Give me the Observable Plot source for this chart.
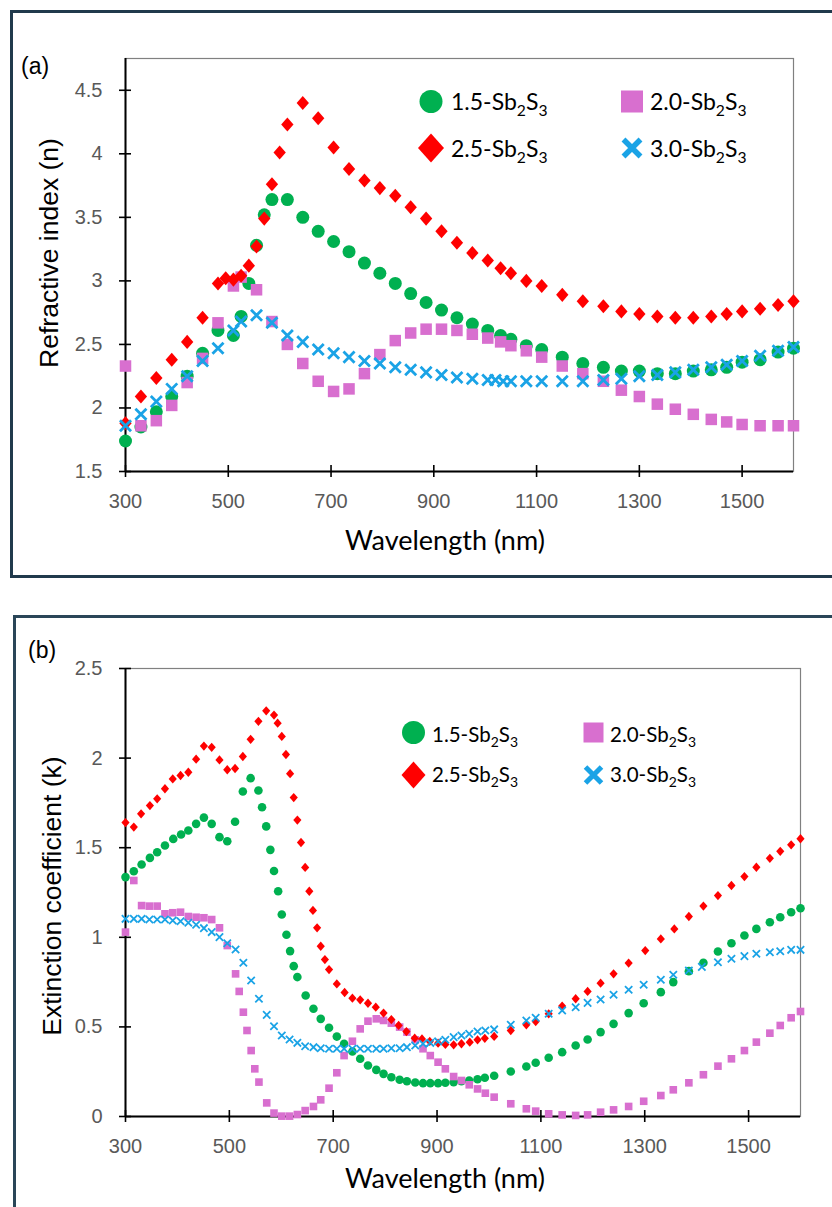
<!DOCTYPE html>
<html>
<head>
<meta charset="utf-8">
<script src="https://cdn.jsdelivr.net/npm/d3@7"></script>
<script src="https://cdn.jsdelivr.net/npm/@observablehq/plot@0.6"></script>
<style>
html,body{margin:0;padding:0;background:#fff;width:832px;height:1207px;overflow:hidden;}
#page{position:relative;width:832px;height:1207px;overflow:hidden;background:#fff;}
.box{position:absolute;box-sizing:border-box;}
#boxA{left:10px;top:10px;width:840px;height:568px;border:3px solid #203a4c;}
#boxB{left:13px;top:615px;width:840px;height:620px;border:3px solid #2a4658;}
.plot{position:absolute;left:0;}
</style>
</head>
<body>
<div id="page">
  <div class="box" id="boxA"></div>
  <div class="box" id="boxB"></div>
  <div id="pa" class="plot" style="top:0px"></div>
  <div id="pb" class="plot" style="top:600px"></div>
</div>
<script>
// ---------------- DATA ----------------
const seriesLabels = ["1.5", "2.0", "2.5", "3.0"];
const xTicks = [300, 500, 700, 900, 1100, 1300, 1500];
const xDomain = [300, 1600];
const yTicksA = [1.5, 2, 2.5, 3, 3.5, 4, 4.5];
const yDomainA = [1.5, 4.75];
const yTicksB = [0, 0.5, 1, 1.5, 2, 2.5];
const yDomainB = [0, 2.5];

// (a) refractive index n
const wlA_15 = [300,330,360,390,420,450,480,510,525,540,555,570,585,615,645,675,705,735,765,795,825,855,885,915,945,975,1005,1030,1050,1080,1110,1150,1190,1230,1265,1300,1335,1370,1405,1440,1470,1500,1535,1570,1600];
const nA_15 = [1.74,1.85,1.97,2.09,2.25,2.43,2.61,2.57,2.72,2.98,3.28,3.52,3.64,3.64,3.50,3.39,3.31,3.23,3.14,3.06,2.98,2.90,2.83,2.77,2.71,2.66,2.61,2.57,2.54,2.49,2.46,2.40,2.35,2.32,2.29,2.29,2.27,2.27,2.29,2.30,2.32,2.36,2.38,2.44,2.47];
const wlA_20 = [300,330,360,390,420,450,480,510,525,555,585,615,645,675,705,735,765,795,825,855,885,915,945,975,1005,1030,1050,1080,1110,1150,1190,1230,1265,1300,1335,1370,1405,1440,1470,1500,1535,1570,1600];
const nA_20 = [2.33,1.86,1.90,2.02,2.20,2.39,2.67,2.96,3.03,2.93,2.68,2.50,2.35,2.21,2.13,2.15,2.27,2.42,2.53,2.59,2.62,2.62,2.61,2.58,2.55,2.52,2.49,2.45,2.40,2.33,2.27,2.21,2.14,2.09,2.03,1.99,1.95,1.91,1.89,1.87,1.86,1.86,1.86];
const wlA_25 = [300,330,360,390,420,450,480,495,510,525,540,555,570,585,600,615,645,675,705,735,765,795,825,855,885,915,945,975,1005,1030,1050,1080,1110,1150,1190,1230,1265,1300,1335,1370,1405,1440,1470,1500,1535,1570,1600];
const nA_25 = [1.88,2.09,2.235,2.38,2.52,2.71,2.98,3.02,3.01,3.04,3.12,3.27,3.49,3.76,4.01,4.23,4.40,4.28,4.05,3.88,3.79,3.73,3.67,3.58,3.49,3.39,3.30,3.22,3.16,3.10,3.06,3.00,2.96,2.89,2.84,2.80,2.76,2.74,2.72,2.71,2.71,2.72,2.74,2.76,2.78,2.81,2.84];
const wlA_30 = [300,330,360,390,420,450,480,510,525,555,585,615,645,675,705,735,765,795,825,855,885,915,945,975,1005,1020,1035,1050,1080,1110,1150,1190,1230,1265,1300,1335,1370,1405,1440,1470,1500,1535,1570,1600];
const nA_30 = [1.86,1.95,2.05,2.15,2.25,2.37,2.47,2.61,2.68,2.73,2.67,2.57,2.52,2.46,2.43,2.40,2.37,2.35,2.32,2.30,2.28,2.26,2.24,2.23,2.22,2.22,2.21,2.21,2.21,2.21,2.21,2.21,2.22,2.23,2.25,2.26,2.28,2.30,2.32,2.34,2.37,2.41,2.45,2.48];

// (b) extinction coefficient k
const wlB_15 = [300,316,331,347,361,376,392,407,421,436,451,466,481,496,511,526,541,556,563,571,579,586,594,601,610,617,624,631,647,662,676,692,707,721,737,752,767,783,797,812,828,842,858,873,887,902,916,932,947,962,978,992,1010,1042,1072,1090,1115,1141,1167,1190,1215,1240,1269,1298,1331,1355,1385,1413,1441,1467,1492,1515,1541,1561,1582,1600];
const kB_15 = [1.336,1.369,1.406,1.443,1.475,1.512,1.549,1.574,1.596,1.633,1.668,1.633,1.559,1.536,1.645,1.814,1.888,1.819,1.726,1.619,1.488,1.37,1.257,1.127,1.014,0.923,0.839,0.778,0.675,0.601,0.545,0.495,0.446,0.406,0.363,0.322,0.285,0.260,0.238,0.219,0.205,0.197,0.190,0.186,0.186,0.186,0.188,0.192,0.197,0.201,0.208,0.216,0.227,0.251,0.279,0.300,0.328,0.359,0.396,0.430,0.471,0.517,0.577,0.632,0.694,0.750,0.811,0.858,0.921,0.967,1.010,1.047,1.084,1.112,1.140,1.162];
const wlB_20 = [300,316,331,346,361,376,391,406,421,436,451,466,481,496,512,519,527,534,542,549,557,572,586,601,616,631,646,662,676,692,707,721,737,752,767,783,797,812,828,842,858,873,887,902,916,932,947,962,978,993,1010,1042,1072,1090,1115,1141,1167,1190,1215,1240,1269,1298,1331,1355,1385,1413,1441,1467,1492,1515,1541,1561,1582,1600];
const kB_20 = [1.029,1.317,1.177,1.174,1.174,1.131,1.137,1.140,1.116,1.112,1.109,1.099,1.053,0.954,0.796,0.698,0.582,0.480,0.368,0.266,0.192,0.076,0.019,0.002,0.002,0.011,0.033,0.056,0.093,0.158,0.244,0.340,0.420,0.489,0.532,0.545,0.536,0.521,0.499,0.471,0.428,0.378,0.340,0.303,0.266,0.223,0.201,0.177,0.154,0.130,0.108,0.071,0.043,0.030,0.015,0.009,0.006,0.009,0.024,0.037,0.056,0.085,0.117,0.149,0.188,0.233,0.281,0.322,0.368,0.415,0.465,0.508,0.551,0.586];
const wlB_25 = [300,316,330,347,361,376,391,406,421,436,451,466,481,496,511,526,541,556,571,586,593,601,609,617,624,631,638,646,654,661,669,676,684,692,707,722,737,752,767,782,797,812,826,841,857,871,886,902,916,932,947,963,978,992,1010,1042,1072,1090,1115,1141,1167,1190,1215,1240,1269,1301,1331,1357,1385,1413,1441,1467,1492,1515,1541,1561,1582,1600];
const kB_25 = [1.64,1.615,1.689,1.735,1.773,1.829,1.884,1.903,1.921,1.994,2.067,2.06,1.99,1.935,1.942,2.009,2.105,2.205,2.264,2.24,2.195,2.121,2.02,1.913,1.78,1.654,1.529,1.39,1.257,1.15,1.053,0.95,0.876,0.82,0.74,0.692,0.66,0.651,0.632,0.61,0.577,0.541,0.508,0.474,0.437,0.433,0.419,0.409,0.402,0.40,0.406,0.415,0.428,0.436,0.447,0.48,0.512,0.53,0.573,0.616,0.657,0.698,0.744,0.796,0.856,0.926,0.991,1.047,1.116,1.174,1.233,1.289,1.339,1.391,1.441,1.48,1.516,1.55];
const wlB_30 = [300,316,331,346,361,376,391,406,421,436,451,466,481,496,512,527,542,557,572,586,601,616,631,646,662,676,692,707,721,737,752,767,783,797,812,828,842,858,873,887,902,916,932,947,962,978,993,1010,1042,1072,1090,1115,1141,1167,1190,1215,1240,1269,1298,1331,1355,1385,1410,1441,1467,1492,1515,1541,1561,1582,1600];
const kB_30 = [1.103,1.103,1.103,1.099,1.099,1.099,1.094,1.090,1.081,1.070,1.051,1.029,1.001,0.967,0.932,0.858,0.759,0.657,0.567,0.504,0.452,0.430,0.411,0.392,0.387,0.381,0.378,0.378,0.378,0.378,0.378,0.378,0.378,0.378,0.381,0.381,0.387,0.396,0.406,0.411,0.419,0.428,0.443,0.452,0.461,0.474,0.480,0.486,0.512,0.536,0.551,0.573,0.592,0.610,0.634,0.653,0.679,0.707,0.735,0.763,0.791,0.815,0.835,0.861,0.880,0.895,0.908,0.917,0.922,0.930,0.930];

// ---------------- STYLE ----------------
const COLORS = ["#00b050", "#d86fcf", "#ff0000", "#1aa3e6"];
const FONT_ARIAL = "'Liberation Sans', Arial, Helvetica, sans-serif";
const FONT_CAL = "Lato, 'Open Sans', sans-serif";

const diamondSym = {draw(ctx, size) {
  const r = Math.sqrt(size / Math.PI), w = r * 0.95, h = r * 1.08;
  ctx.moveTo(0, -h); ctx.lineTo(w, 0); ctx.lineTo(0, h); ctx.lineTo(-w, 0); ctx.closePath();
}};
const timesSym = {draw(ctx, size) {
  const r = Math.sqrt(size / Math.PI) * 0.85;
  ctx.moveTo(-r, -r); ctx.lineTo(r, r); ctx.moveTo(-r, r); ctx.lineTo(r, -r);
}};

const rows = (xs, ys) => xs.map((x, i) => ({x, y: ys[i]}));

function seriesMarks(sets, r, sw) {
  const [g, m, rd, b] = sets;
  return [
    Plot.dot(g, {x: "x", y: "y", r, symbol: "circle", fill: COLORS[0], stroke: "none"}),
    Plot.dot(m, {x: "x", y: "y", r, symbol: "square", fill: COLORS[1], stroke: "none"}),
    Plot.dot(rd, {x: "x", y: "y", r, symbol: diamondSym, fill: COLORS[2], stroke: "none"}),
    Plot.dot(b, {x: "x", y: "y", r, symbol: timesSym, fill: "none", stroke: COLORS[3], strokeWidth: sw})
  ];
}

function makePanel(cfg) {
  const frameW = cfg.width - cfg.mL - cfg.mR;
  const frameH = cfg.height - cfg.mT - cfg.mB;
  return Plot.plot({
    width: cfg.width, height: cfg.height,
    marginLeft: cfg.mL, marginRight: cfg.mR, marginTop: cfg.mT, marginBottom: cfg.mB,
    x: {domain: xDomain, axis: null},
    y: {domain: cfg.yDomain, axis: null},
    style: {fontFamily: FONT_ARIAL, background: "transparent", overflow: "visible", color: "black"},
    marks: [
      Plot.frame({stroke: "#808080", strokeWidth: 1.2}),
      Plot.tickY(cfg.yTicks, {y: d => d, insetRight: frameW - 6, stroke: "black", strokeWidth: 1.6}),
      Plot.tickX(xTicks, {x: d => d, insetTop: frameH - 6, stroke: "black", strokeWidth: 1.6}),
      Plot.axisY(cfg.yTicks, {anchor: "left", tickSize: 6, tickPadding: 17, stroke: "black", strokeWidth: 1.6,
        fill: "#595959", fontSize: 20, tickFormat: d => String(d), label: null}),
      Plot.axisX(xTicks, {anchor: "bottom", tickSize: 6, tickPadding: 16, stroke: "black", strokeWidth: 1.6,
        fill: "#595959", fontSize: 20, tickFormat: d => String(d), label: null}),
      Plot.ruleX([xDomain[0]], {stroke: "black", strokeWidth: 2}),
      Plot.ruleY([cfg.yDomain[0]], {stroke: "black", strokeWidth: 2}),
      ...seriesMarks(cfg.sets, cfg.r, cfg.sw)
    ]
  });
}

function addText(svg, cfg) {
  const s = d3.select(svg);
  s.append("text").attr("x", cfg.tagX).attr("y", cfg.tagY).attr("text-anchor", "start")
    .attr("font-family", FONT_ARIAL).attr("font-size", 23).attr("fill", "black").text(cfg.tag);
  s.append("text").attr("x", cfg.xtX).attr("y", cfg.xtY).attr("text-anchor", "middle")
    .attr("font-family", FONT_CAL).attr("font-size", 27).attr("fill", "black").text("Wavelength (nm)");
  s.append("text").attr("transform", `translate(${cfg.ytX},${cfg.ytY}) rotate(-90)`).attr("text-anchor", "middle")
    .attr("font-family", FONT_ARIAL).attr("font-size", 26.5).attr("fill", "black").text(cfg.yTitle);
}

function addLegend(svg, L) {
  const s = d3.select(svg).append("g").attr("text-anchor", "start");
  s.append("circle").attr("cx", L.c1x).attr("cy", L.r1y).attr("r", L.cr).attr("fill", COLORS[0]);
  s.append("rect").attr("x", L.c2x - L.sq / 2).attr("y", L.r1y - L.sq / 2).attr("width", L.sq).attr("height", L.sq).attr("fill", COLORS[1]);
  s.append("path").attr("d", `M${L.c1x},${L.r2y - L.dh}L${L.c1x + L.dw},${L.r2y}L${L.c1x},${L.r2y + L.dh}L${L.c1x - L.dw},${L.r2y}Z`).attr("fill", COLORS[2]);
  s.append("path").attr("d", `M${L.c2x - L.xa},${L.r2y - L.xa}L${L.c2x + L.xa},${L.r2y + L.xa}M${L.c2x - L.xa},${L.r2y + L.xa}L${L.c2x + L.xa},${L.r2y - L.xa}`)
    .attr("stroke", COLORS[3]).attr("stroke-width", L.xw).attr("fill", "none");
  const pos = [[L.t1x, L.b1], [L.t2x, L.b1], [L.t1x, L.b2], [L.t2x, L.b2]];
  seriesLabels.forEach((lab, i) => {
    const t = s.append("text").attr("x", pos[i][0]).attr("y", pos[i][1]).attr("text-anchor", "start")
      .attr("font-family", FONT_CAL).attr("font-size", L.fs).attr("fill", "black");
    t.append("tspan").text(lab + "-Sb");
    t.append("tspan").attr("font-size", L.fs * 0.68).attr("dy", L.fs * 0.28).text("2");
    t.append("tspan").attr("dy", -L.fs * 0.28).text("S");
    t.append("tspan").attr("font-size", L.fs * 0.68).attr("dy", L.fs * 0.28).text("3");
  });
}

// ---------------- PANEL A ----------------
const setsA = [rows(wlA_15, nA_15), rows(wlA_20, nA_20), rows(wlA_25, nA_25), rows(wlA_30, nA_30)];
const svgA = makePanel({width: 832, height: 578, mL: 125, mR: 39, mT: 58, mB: 107,
  yDomain: yDomainA, yTicks: yTicksA, sets: setsA, r: 6.5, sw: 2.8});
document.getElementById("pa").appendChild(svgA);
addText(svgA, {tag: "(a)", tagX: 21, tagY: 74, xtX: 445, xtY: 550, ytX: 58, ytY: 253, yTitle: "Refractive index (n)"});
addLegend(svgA, {c1x: 431, c2x: 632, r1y: 101.5, r2y: 148, cr: 11.5, sq: 22, dw: 13, dh: 14.5, xa: 8.5, xw: 5.5,
  t1x: 451, t2x: 650, b1: 110, b2: 157, fs: 23});

// ---------------- PANEL B ----------------
const setsB = [rows(wlB_15, kB_15), rows(wlB_20, kB_20), rows(wlB_25, kB_25), rows(wlB_30, kB_30)];
const svgB = makePanel({width: 832, height: 607, mL: 125, mR: 32, mT: 68, mB: 91,
  yDomain: yDomainB, yTicks: yTicksB, sets: setsB, r: 4.3, sw: 1.8});
document.getElementById("pb").appendChild(svgB);
addText(svgB, {tag: "(b)", tagX: 28, tagY: 58, xtX: 445, xtY: 588, ytX: 61, ytY: 296, yTitle: "Extinction coefficient (k)"});
addLegend(svgB, {c1x: 413.5, c2x: 593.5, r1y: 132.5, r2y: 175, cr: 11.5, sq: 20, dw: 12, dh: 13.5, xa: 8, xw: 5,
  t1x: 432, t2x: 610, b1: 141.5, b2: 181.5, fs: 20.5});
</script>
</body>
</html>
